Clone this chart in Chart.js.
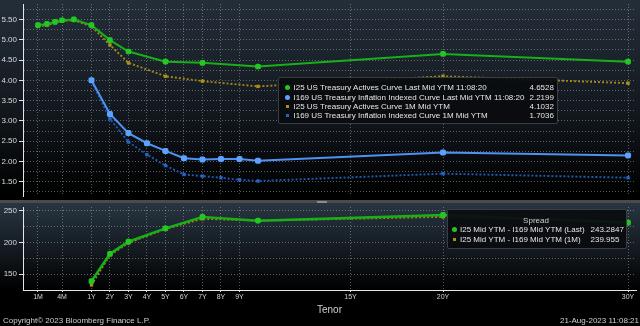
<!DOCTYPE html>
<html>
<head>
<meta charset="utf-8">
<title>US Treasury vs TIPS curve</title>
<script src="https://cdn.jsdelivr.net/npm/chart.js@4.4.0/dist/chart.umd.min.js"></script>
<style>
  body { margin: 0; background: #000; width: 640px; height: 326px; overflow: hidden; position: relative;
         font-family: "Liberation Sans", Arial, sans-serif; color: #e6e6e6; }
  #yieldPanel { position: absolute; left: 0; top: 0; width: 640px; height: 200px;
                background: linear-gradient(#242e39, #11161c 60%, #000 97%); }
  #divider { position: absolute; left: 0; top: 200px; width: 640px; height: 3px; background: #4b4b4b; }
  #grip { position: absolute; left: 317px; top: 201px; width: 10px; height: 2px; background: #8a8a8a; }
  #spreadPanel { position: absolute; left: 0; top: 203px; width: 640px; height: 123px;
                 background: linear-gradient(#283541 0px, #10151a 55px, #000 87px); }
  .legend { position: absolute; background: rgba(10, 12, 15, 0.93); border: 1px solid #3a3d42;
            border-radius: 2px; font-size: 8px; }
  .legend span { position: absolute; white-space: nowrap; line-height: 9px; }
  .mark { display: block; }
  .foot { position: absolute; top: 316px; font-size: 8px; color: #cfcfcf; white-space: nowrap; }
</style>
</head>
<body>
<div id="yieldPanel"><canvas id="yieldChart"></canvas></div>
<div id="divider"></div>
<div id="grip"></div>
<div id="spreadPanel"><canvas id="spreadChart"></canvas></div>
<div class="legend" id="yieldLegend" style="left:278px;top:77px;width:278px;height:45px"></div>
<div class="legend" id="spreadLegend" style="left:447px;top:209px;width:178px;height:38px"></div>
<div class="foot" style="left:3px">Copyright© 2023 Bloomberg Finance L.P.</div>
<div class="foot" style="right:1px">21-Aug-2023 11:08:21</div>

<script>
// Curve data (yields in %, spread in bp)
const ustTenors = ['1M', '2M', '3M', '4M', '6M', '1Y', '2Y', '3Y', '5Y', '7Y', '10Y', '20Y', '30Y'];
const ustLast = [5.36, 5.39, 5.44, 5.48, 5.50, 5.36, 4.99, 4.71, 4.46, 4.43, 4.34, 4.65, 4.46];
const ust1M = [5.33, 5.36, 5.42, 5.46, 5.48, 5.33, 4.87, 4.43, 4.10, 3.98, 3.85, 4.10, 3.93];

const tipsTenors = ['1Y', '2Y', '3Y', '4Y', '5Y', '6Y', '7Y', '8Y', '9Y', '10Y', '20Y', '30Y'];
const tipsLast = [4.00, 3.17, 2.70, 2.45, 2.26, 2.08, 2.05, 2.06, 2.06, 2.02, 2.22, 2.15];
const tips1M = [3.98, 3.05, 2.48, 2.17, 1.90, 1.68, 1.64, 1.60, 1.55, 1.52, 1.70, 1.60];

const spreadTenors = ['1Y', '2Y', '3Y', '5Y', '7Y', '10Y', '20Y', '30Y'];
const spreadLast = [139, 182, 201, 222, 240, 234, 243, 231];
const spread1M = [133, 180, 199, 221, 237, 234, 240, 232];

const tickLabels = ['1M', '4M', '1Y', '2Y', '3Y', '4Y', '5Y', '6Y', '7Y', '8Y', '9Y', '15Y', '20Y', '30Y'];

const yieldNames = [
    'I25 US Treasury Actives Curve Last Mid YTM 11:08:20',
    'I169 US Treasury Inflation Indexed Curve Last Mid YTM 11:08:20',
    'I25 US Treasury Actives Curve 1M Mid YTM',
    'I169 US Treasury Inflation Indexed Curve 1M Mid YTM'
];
const yieldReadout = ['4.6528', '2.2199', '4.1032', '1.7036'];
const spreadNames = ['I25 Mid YTM - I169 Mid YTM (Last)', 'I25 Mid YTM - I169 Mid YTM (1M)'];
const spreadReadout = ['243.2847', '239.955'];

// Colours
const GREEN = '#17b017';
const GOLD = '#a08718';
const BLUE = '#4f92f2';
const NAVY = '#1f5ab4';
const GRID = 'rgba(205,205,205,0.42)';

// Tenor axis: years are linear, the bill end (< 1Y) is stretched like the terminal does
const billMonths = [1, 2, 3, 4, 6, 12];
const billAxis = [-1.89, -1.41, -0.97, -0.59, 0.05, 1];
const X_MIN = -2.70;
const X_MAX = 30.43;

function tenorYears(label) {
    const n = parseFloat(label);
    return label.endsWith('M') ? n / 12 : n;
}

function axisPos(label) {
    const years = tenorYears(label);
    if (years >= 1) return years;
    const m = years * 12;
    for (let i = 0; i < billMonths.length - 1; i++) {
        if (m <= billMonths[i + 1]) {
            const t = (m - billMonths[i]) / (billMonths[i + 1] - billMonths[i]);
            return billAxis[i] + t * (billAxis[i + 1] - billAxis[i]);
        }
    }
    return years;
}

function toPoints(tenors, values) {
    return tenors.map((t, i) => ({ x: axisPos(t), y: values[i] }));
}

function isStep(v, step) {
    return Math.abs(v / step - Math.round(v / step)) < 1e-6;
}

Chart.defaults.font.family = '"Liberation Sans", Arial, sans-serif';
Chart.defaults.color = '#d8d8d8';

function tenorScale(showLabels) {
    return {
        type: 'linear',
        min: X_MIN,
        max: X_MAX,
        afterBuildTicks: scale => { scale.ticks = tickLabels.map(t => ({ value: axisPos(t) })); },
        ticks: {
            display: showLabels,
            autoSkip: false,
            maxRotation: 0,
            padding: 1,
            color: '#d4d4d4',
            font: { size: 7 },
            callback: (v, i) => tickLabels[i]
        },
        grid: { color: GRID, drawTicks: showLabels, tickLength: 2, tickColor: '#dcdcdc' },
        border: { display: showLabels, color: '#e6e6e6', width: 1, dash: [1, 2] }
    };
}

function valueScale(min, max, step, labelStep, digits) {
    return {
        min: min,
        max: max,
        afterFit: scale => {
            scale.width = 23;
            scale.paddingTop = 0;
            scale.paddingBottom = 0;
        },
        ticks: {
            stepSize: step,
            includeBounds: false,
            autoSkip: false,
            padding: 2,
            color: '#d8d8d8',
            font: { size: 8 },
            callback: v => isStep(v, labelStep) ? v.toFixed(digits) : ''
        },
        grid: {
            color: GRID,
            tickLength: 4,
            tickColor: c => isStep(c.tick.value, labelStep) ? '#e0e0e0' : 'rgba(0,0,0,0)'
        },
        border: { color: '#e6e6e6', width: 1, dash: [1, 2] }
    };
}

// Yield curves (top panel)
const yieldX = tenorScale(false);
yieldX.afterFit = scale => { scale.height = 0; scale.paddingLeft = 0; scale.paddingRight = 0; };

new Chart(document.getElementById('yieldChart'), {
    type: 'line',
    data: {
        datasets: [
            { label: yieldNames[0], data: toPoints(ustTenors, ustLast), borderColor: GREEN, backgroundColor: '#22c822',
              borderWidth: 2, pointStyle: 'rectRounded', pointRadius: 3.3, pointBorderWidth: 0 },
            { label: yieldNames[1], data: toPoints(tipsTenors, tipsLast), borderColor: BLUE, backgroundColor: '#5ea2ff',
              borderWidth: 2, pointStyle: 'rectRounded', pointRadius: 3.5, pointBorderWidth: 0 },
            { label: yieldNames[2], data: toPoints(ustTenors, ust1M), borderColor: GOLD, backgroundColor: '#ab911c',
              borderWidth: 1.9, borderDash: [2, 2], pointStyle: 'rect', pointRadius: 2.4, pointBorderWidth: 0 },
            { label: yieldNames[3], data: toPoints(tipsTenors, tips1M), borderColor: NAVY, backgroundColor: '#2563c4',
              borderWidth: 1.9, borderDash: [2, 2], pointStyle: 'rect', pointRadius: 2.4, pointBorderWidth: 0 }
        ]
    },
    options: {
        animation: false,
        responsive: true,
        maintainAspectRatio: false,
        layout: { padding: { left: 0, right: 4, top: 0, bottom: 0 } },
        elements: { line: { tension: 0 } },
        plugins: { legend: { display: false }, tooltip: { enabled: false } },
        scales: { x: yieldX, y: valueScale(1.15, 5.88, 0.25, 0.5, 2) }
    }
});

// Spread (bottom panel)
const spreadX = tenorScale(true);
spreadX.title = { display: true, text: 'Tenor', color: '#cfcfcf', font: { size: 10 }, padding: { top: 0, bottom: 10 } };
spreadX.afterFit = scale => { scale.height = 36; scale.paddingLeft = 0; scale.paddingRight = 0; };

new Chart(document.getElementById('spreadChart'), {
    type: 'line',
    data: {
        datasets: [
            { label: spreadNames[0], data: toPoints(spreadTenors, spreadLast), borderColor: GREEN, backgroundColor: '#22c822',
              borderWidth: 2.4, pointStyle: 'rectRounded', pointRadius: 3.3, pointBorderWidth: 0 },
            { label: spreadNames[1], data: toPoints(spreadTenors, spread1M), borderColor: GOLD, backgroundColor: '#ab911c',
              borderWidth: 1.9, borderDash: [2, 2], pointStyle: 'rect', pointRadius: 2.4, pointBorderWidth: 0 }
        ]
    },
    options: {
        animation: false,
        responsive: true,
        maintainAspectRatio: false,
        layout: { padding: { left: 0, right: 4, top: 0, bottom: 0 } },
        elements: { line: { tension: 0 } },
        plugins: { legend: { display: false }, tooltip: { enabled: false } },
        scales: { x: spreadX, y: valueScale(125, 255.5, 25, 50, 0) }
    }
});

// Legend boxes
function addSpan(box, text, left, top, style) {
    const s = document.createElement('span');
    s.textContent = text;
    s.style.left = left + 'px';
    s.style.top = top + 'px';
    if (style) Object.assign(s.style, style);
    box.appendChild(s);
    return s;
}

function addMarker(box, color, round, size, cx, cy) {
    const m = document.createElement('span');
    m.className = 'mark';
    Object.assign(m.style, {
        left: (cx - size / 2) + 'px', top: (cy - size / 2) + 'px', width: size + 'px', height: size + 'px',
        background: color, borderRadius: round ? '50%' : '0'
    });
    box.appendChild(m);
}

const yieldBox = document.getElementById('yieldLegend');
const yieldMarks = [['#22c822', true, 5], ['#5ea2ff', true, 5], ['#ab911c', false, 3], ['#2563c4', false, 3]];
yieldNames.forEach((name, i) => {
    const cy = 9.8 + i * 9.35;
    addMarker(yieldBox, yieldMarks[i][0], yieldMarks[i][1], yieldMarks[i][2], 8.5, cy);
    addSpan(yieldBox, name, 14.5, cy - 4.5);
    addSpan(yieldBox, yieldReadout[i], 250.5, cy - 4.5);
});

const spreadBox = document.getElementById('spreadLegend');
addSpan(spreadBox, 'Spread', 0, 5.5, { width: '176px', textAlign: 'center', color: '#cfcfcf' });
const spreadMarks = [['#22c822', true, 5], ['#ab911c', false, 3]];
spreadNames.forEach((name, i) => {
    const cy = 19.5 + i * 9.7;
    addMarker(spreadBox, spreadMarks[i][0], spreadMarks[i][1], spreadMarks[i][2], 6.5, cy);
    addSpan(spreadBox, name, 12, cy - 4.5);
    addSpan(spreadBox, spreadReadout[i], 142.5, cy - 4.5);
});
</script>
</body>
</html>
